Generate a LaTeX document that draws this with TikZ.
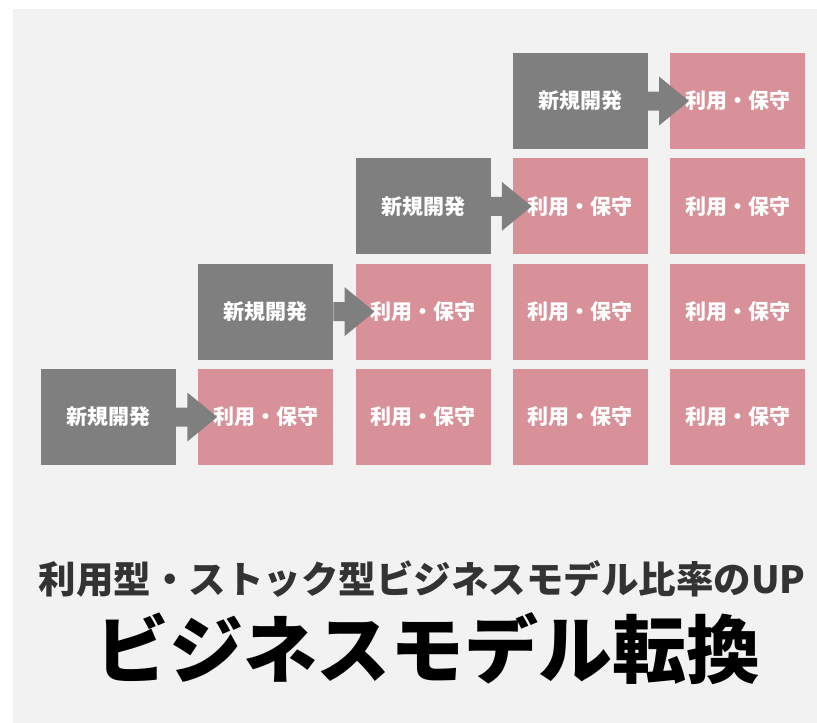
\documentclass[tikz,border=0pt]{standalone}
\usepackage{fontspec}
\newfontfamily\cjk{Noto Sans CJK JP}
\usetikzlibrary{calc}
\definecolor{bgc}{HTML}{F2F2F2}
\definecolor{devc}{HTML}{7F7F7F}
\definecolor{usec}{HTML}{D99199}
\definecolor{subc}{HTML}{333333}
\tikzset{
  cell/.style={minimum width=135pt, minimum height=96pt, inner sep=0pt, outer sep=0pt,
    text=white, font=\cjk\bfseries\fontsize{21}{21}\selectfont},
  devbox/.style={cell, fill=devc},
  usebox/.style={cell, fill=usec},
  arr/.style={fill=devc}
}
\newcommand{\mkarrow}[2]{%
  \fill[arr] ($(#1.east)+(0,-9.5)$) -- ($(#2.west)+(-11,-9.5)$) -- ($(#2.west)+(-11,-24.5)$)
    -- ($(#2.west)+(19,0)$) -- ($(#2.west)+(-11,24.5)$) -- ($(#2.west)+(-11,9.5)$)
    -- ($(#1.east)+(0,9.5)$) -- cycle;}
\begin{document}
\begin{tikzpicture}[x=1pt,y=-1pt]
\useasboundingbox (0,0) rectangle (817,723);
\fill[bgc] (13,9) rectangle (817,723);
% development boxes
\node[devbox] (d3) at (108.5,417) {新規開発};
\node[devbox] (d2) at (265.75,311.67) {新規開発};
\node[devbox] (d1) at (423,206.33) {新規開発};
\node[devbox] (d0) at (580.25,101) {新規開発};
% use/maintenance boxes
\node[usebox] (u04) at (737.5,101) {利用・保守};
\node[usebox] (u13) at (580.25,206.33) {利用・保守};
\node[usebox] (u14) at (737.5,206.33) {利用・保守};
\node[usebox] (u22) at (423,311.67) {利用・保守};
\node[usebox] (u23) at (580.25,311.67) {利用・保守};
\node[usebox] (u24) at (737.5,311.67) {利用・保守};
\node[usebox] (u31) at (265.75,417) {利用・保守};
\node[usebox] (u32) at (423,417) {利用・保守};
\node[usebox] (u33) at (580.25,417) {利用・保守};
\node[usebox] (u34) at (737.5,417) {利用・保守};
% arrows
\mkarrow{d0}{u04}
\mkarrow{d1}{u13}
\mkarrow{d2}{u22}
\mkarrow{d3}{u31}
% titles
\node[text=subc, font=\cjk\bfseries\fontsize{37.5}{37.5}\selectfont] (sub) at (422,579) {利用型・ストック型ビジネスモデル比率のUP};
\node[text=black, font=\cjk\bfseries\fontsize{74}{74}\selectfont] (title) at (428,649) {ビジネスモデル転換};
\end{tikzpicture}
\end{document}
